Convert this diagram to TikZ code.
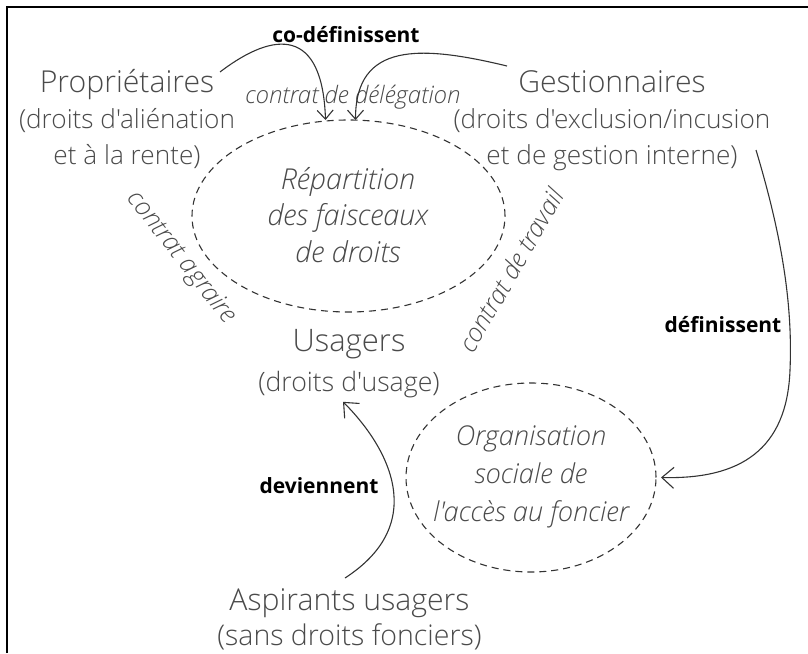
\documentclass[tikz,border=0pt]{standalone}
\usepackage{fontspec}
\IfFontExistsTF{Open Sans Light Italic}
  {\setmainfont{Open Sans Light}[Ligatures=TeXOff, BoldFont={Open Sans Bold}, ItalicFont={Open Sans Light Italic}]
   \newfontfamily\itsans{Open Sans Light Italic}[Ligatures=TeXOff]}
  {\setmainfont{Open Sans Light}[Ligatures=TeXOff, BoldFont={Open Sans Bold}, ItalicFont={Fira Sans Light Italic}]
   \newfontfamily\itsans{Fira Sans Light Italic}[Ligatures=TeXOff]}
\newfontfamily\boldsans{Open Sans}[Ligatures=TeXOff]
\newcommand\ttlline[2][30.2]{{\fontsize{#1}{36}\selectfont\strut#2}}
\newcommand\subline[2][26.2]{{\fontsize{#1}{36}\selectfont\strut#2}}
\usetikzlibrary{shapes.geometric,arrows.meta}
\definecolor{txt}{HTML}{4A4A4A}
\definecolor{ln}{HTML}{333333}
\begin{document}
\begin{tikzpicture}[x=1pt,y=-1pt,
  mainlbl/.style={font=\fontsize{28}{36}\selectfont, text=txt, align=center, inner sep=0pt, outer sep=0pt},
  ovaltxt/.style={font=\fontsize{28.8}{36.5}\selectfont\itsans, text=txt, align=center, inner sep=0pt},
  smallit/.style={font=\fontsize{24}{28}\selectfont\itsans, text=txt, inner sep=0pt},
  boldlbl/.style={font=\fontsize{21}{24}\selectfont\boldsans\bfseries, text=black, inner sep=0pt},
  dashoval/.style={draw=ln, ellipse, line width=1.1pt, dash pattern=on 7pt off 5pt, inner sep=0pt, outer sep=0pt},
  arr/.style={draw=ln, line width=1.1pt, -{Straight Barb[length=12pt,width=21pt]}},
  smallarr/.style={arr, -{Straight Barb[length=9pt,width=16pt]}}]
\useasboundingbox (0,0) rectangle (808,653);
\draw[line width=2.3pt] (7,653) -- (7,7) -- (808,7);

% ellipses
\node[dashoval, minimum width=313pt, minimum height=192pt] (rep) at (348.5,216) {};
\node[dashoval, minimum width=250pt, minimum height=189pt] (org) at (531,477.5) {};

% main labels
\node[mainlbl] (prop) at (127,120.8) {\ttlline{Propriétaires}\\\subline{(droits d'aliénation}\\\subline{et à la rente)}};
\node[mainlbl] (gest) at (612,120.8) {\ttlline{Gestionnaires}\\\subline{(droits d'exclusion/incusion}\\\subline{et de gestion interne)}};
\node[mainlbl] (usa) at (349,363.8) {\ttlline[31]{Usagers}\\[4pt]\subline[26.7]{(droits d'usage)}};
\node[mainlbl] (asp) at (349.5,620.3) {\ttlline{Aspirants usagers}\\[-1pt]\subline[28.5]{(sans droits fonciers)}};

% oval texts
\node[ovaltxt] (reptxt) at (348,218.5) {\strut Répartition\\\strut des faisceaux\\\strut de droits};
\node[ovaltxt, font=\fontsize{27.3}{38}\selectfont\itsans] (orgtxt) at (531,475.4) {\strut Organisation\\\strut sociale de\\\strut l'accès au foncier};

% contract labels
\node[smallit, anchor=base] (deleg) at (353,103) {contrat de délégation};
\node[smallit, font=\fontsize{25.5}{29}\selectfont\itsans, rotate=-52] (agr) at (181,258) {contrat agraire};
\node[smallit, font=\fontsize{25.5}{29}\selectfont\itsans, rotate=60] (trav) at (511,270) {contrat de travail};

% bold labels
\node[boldlbl, anchor=base] (codef) at (346,42) {co-définissent};
\node[boldlbl, anchor=base] (def) at (723,332) {définissent};
\node[boldlbl, anchor=base] (dev) at (319,493) {deviennent};

% connector start points
\coordinate (propout) at (220,72);
\coordinate (gestout) at (507,66);
\coordinate (gestdown) at (756,150);
\coordinate (aspout) at (345,578);

\draw[smallarr] (propout) .. controls +(55,-42) and +(-3,-92) .. ([xshift=-23pt]rep.north);
\draw[smallarr] (gestout) .. controls +(-87,-21) and +(0,-78) .. ([xshift=7pt]rep.north);
\draw[arr] (gestdown) .. controls +(24,80) and +(3,-70) .. (790,370) .. controls +(-3,80) and +(79,2) .. ([xshift=5pt]org.east);
\draw[arr] (aspout) .. controls +(85,-55) and +(45,45) .. ([xshift=-6pt]usa.south);
\end{tikzpicture}
\end{document}
